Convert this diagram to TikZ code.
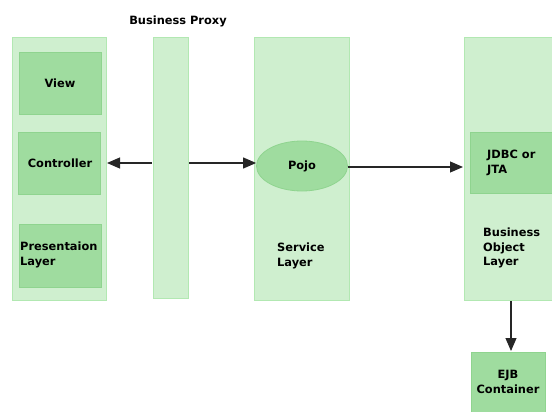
\documentclass[tikz,border=0pt]{standalone}
\usepackage{fontspec}
\setmainfont{DejaVu Sans}
\usetikzlibrary{shapes.geometric,arrows.meta}
\definecolor{panelfill}{HTML}{CFEFCF}
\definecolor{panelline}{HTML}{B2E8B2}
\definecolor{boxfill}{HTML}{9FDC9F}
\definecolor{boxline}{HTML}{8FD48F}
\tikzset{
  panel/.style={draw=panelline, fill=panelfill, line width=1pt},
  inner/.style={draw=boxline, fill=boxfill, line width=0.8pt},
  lbl/.style={font=\bfseries\fontsize{11.4}{14.5}\selectfont, text=black, align=left, inner sep=0pt},
  conn/.style={-{Triangle[length=13pt,width=11pt]}, line width=1.1pt, draw=black!85}
}
\begin{document}
\begin{tikzpicture}[x=1pt,y=-1pt]
\useasboundingbox (0,0) rectangle (552,412);
\begin{scope}
\clip (0,0) rectangle (552,412);
% layer columns
\draw[panel] (12,38) rectangle (106,300);
\draw[panel] (153,38) rectangle (188,298);
\draw[panel] (254,38) rectangle (349,300);
\draw[panel] (464,38) rectangle (560,300);
% presentation tier blocks
\draw[inner] (19,52) rectangle (101,114);
\draw[inner] (18,132) rectangle (100,194);
\draw[inner] (19,224) rectangle (101,287);
% business object tier blocks
\draw[inner] (470,132) rectangle (560,193);
\draw[inner] (471,352) rectangle (545,420);
\end{scope}

\node[lbl] (view) at (60,83) {View};
\node[lbl] (ctrl) at (60,163) {Controller};
\node[lbl, anchor=west] (pres) at (20,255) {Presentaion\\Layer};

\node[lbl] (proxytitle) at (178,21) {Business Proxy};
\coordinate (proxyL) at (152,163);
\coordinate (proxyR) at (189,163);

\node[ellipse, draw=boxline, fill=boxfill, line width=0.8pt,
      minimum width=91pt, minimum height=50pt, lbl, align=center] (pojo) at (302,166) {Pojo};
\node[lbl, anchor=west] (svc) at (277,256) {Service\\Layer};

\node[lbl, anchor=west] (jdbc) at (487,163) {JDBC or\\JTA};
\node[lbl, anchor=west] (bol) at (483,248) {Business\\Object\\Layer};
\coordinate (jdbcL) at (463,167);
\coordinate (bolB) at (511,301);
\coordinate (ejbT) at (511,351);
\node[lbl, align=center] (ejb) at (508,382) {EJB\\Container};

% connectors
\draw[conn] (proxyL) -- (107,163);
\draw[conn] (proxyR) -- (proxyR -| pojo.west);
\draw[conn] (pojo.east |- jdbcL) -- (jdbcL);
\draw[conn] (bolB) -- (ejbT);
\end{tikzpicture}
\end{document}
